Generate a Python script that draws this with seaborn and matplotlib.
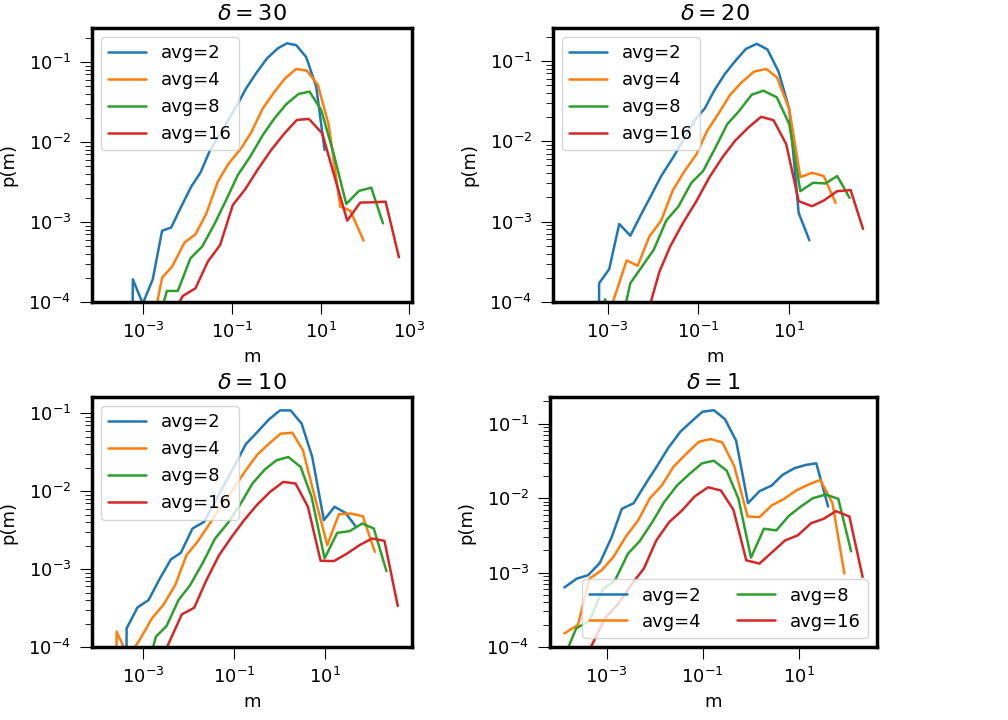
import numpy as np
import pandas as pd
import seaborn as sns
import matplotlib
matplotlib.use("Agg")
import matplotlib.pyplot as plt
from matplotlib import ticker

# values are log10(m) and log10(p(m))
# (-30 stands for an empty bin, it drops the line straight to the axis)

labels = ["avg=2", "avg=4", "avg=8", "avg=16"]
titles = [r"$\delta=30$", r"$\delta=20$", r"$\delta=10$", r"$\delta=1$"]
xtick_vals = [1e-3, 1e-1, 1e1, 1e3]

# delta = 30
d30_m_avg2 = [-3.46, -3.24, -3.015, -2.79, -2.58, -2.375, -2.15, -1.924, -1.71, -1.495, -1.27, -1.059, -0.848,
              -0.683, -0.457, -0.21, 0.032, 0.236, 0.446, 0.672, 0.898, 1.086]
d30_p_avg2 = [-30, -3.717, -4.02, -3.717, -3.11, -3.07, -2.81, -2.56, -2.38, -2.1, -1.9, -1.7, -1.5,
              -1.33, -1.14, -0.954, -0.83, -0.767, -0.79, -0.94, -1.31, -2.1]
d30_m_avg4 = [-2.797, -2.579, -2.353, -2.075, -1.826, -1.585, -1.322, -1.074, -0.795, -0.57, -0.306, -0.058,
              0.198, 0.446, 0.687, 0.935, 1.18, 1.44, 1.665, 1.966]
d30_p_avg4 = [-4.3, -3.696, -3.558, -3.258, -3.154, -2.9, -2.496, -2.267, -2.08, -1.883, -1.579, -1.383,
              -1.204, -1.0875, -1.108, -1.2875, -1.7875, -2.808, -2.858, -3.233]
d30_m_avg8 = [-2.69, -2.473, -2.225, -1.939, -1.676, -1.397, -1.134, -0.87, -0.592, -0.306, -0.043, 0.22,
              0.499, 0.747, 1.01, 1.289, 1.575, 1.861, 2.139, 2.403]
d30_p_avg8 = [-4.31, -3.8625, -3.8625, -3.454, -3.308, -3.025, -2.725, -2.4125, -2.183, -1.9125, -1.704, -1.529,
              -1.4, -1.371, -1.6, -2.142, -2.775, -2.6125, -2.571, -3.017]
d30_m_avg16 = [-2.413, -2.112, -1.826, -1.548, -1.27, -0.983, -0.705, -0.419, -0.118, 0.183, 0.461, 0.732,
               1.033, 1.311, 1.597, 1.891, 2.177, 2.463, 2.764]
d30_p_avg16 = [-4.225, -3.925, -3.829, -3.496, -3.2875, -2.7875, -2.592, -2.342, -2.1, -1.892, -1.725, -1.7125,
               -1.892, -2.433, -2.983, -2.758, -2.754, -2.746, -3.442]

# delta = 20
d20_m_avg2 = [-3.40, -3.1845, -2.963, -2.742, -2.498, -2.262, -2.04, -1.819, -1.546, -1.288, -1.066, -0.86,
              -0.653, -0.417, -0.181, 0.048, 0.284, 0.52, 0.764, 1.0, 1.207, 1.443]
d20_p_avg2 = [-30, -3.767, -3.592, -3.029, -3.175, -2.9125, -2.675, -2.433, -2.192, -1.942, -1.725, -1.592,
              -1.371, -1.1625, -0.996, -0.85, -0.7875, -0.858, -1.133, -1.6, -2.892, -3.233]
d20_m_avg4 = [-3.0, -2.579, -2.336, -2.077, -1.819, -1.561, -1.303, -1.044, -0.808, -0.565, -0.306, -0.048,
              0.225, 0.491, 0.727, 1.0, 1.244, 1.502, 1.76, 2.018]
d20_p_avg4 = [-4.204, -3.483, -3.55, -3.183, -2.9875, -2.608, -2.371, -2.1625, -1.871, -1.6625, -1.425, -1.267,
              -1.133, -1.1, -1.204, -1.6, -2.446, -2.392, -2.433, -2.767]
d20_m_avg8 = [-3.258, -3.052, -2.742, -2.498, -2.24, -1.982, -1.708, -1.435, -1.155, -0.897, -0.624, -0.365,
              -0.1, 0.173, 0.432, 0.727, 1.0, 1.244, 1.524, 1.797, 2.055, 2.328]
d20_p_avg8 = [-4.433, -3.967, -4.392, -3.767, -3.558, -3.35, -2.9875, -2.808, -2.517, -2.371, -2.079, -1.7875,
              -1.621, -1.421, -1.371, -1.454, -1.7875, -2.621, -2.517, -2.525, -2.433, -2.704]
d20_m_avg16 = [-2.129, -1.856, -1.62, -1.339, -1.044, -0.764, -0.476, -0.196, 0.1, 0.38, 0.653, 0.934,
               1.207, 1.502, 1.76, 2.055, 2.351, 2.624]
d20_p_avg16 = [-4.1625, -3.621, -3.308, -3.017, -2.746, -2.454, -2.204, -1.996, -1.829, -1.696, -1.7375, -2.0375,
               -2.746, -2.808, -2.7375, -2.621, -2.608, -3.092]

# delta = 10
d10_m_avg2 = [-3.59, -3.367, -3.125, -2.883, -2.633, -2.391, -2.171, -1.914, -1.657, -1.415, -1.173, -0.96,
              -0.739, -0.483, -0.226, 0.0165, 0.251, 0.494, 0.728, 0.985, 1.22, 1.462, 1.683]
d10_p_avg2 = [-30, -3.76, -3.491, -3.397, -3.12, -2.876, -2.79, -2.479, -2.393, -2.132, -1.872, -1.645,
              -1.397, -1.239, -1.077, -0.962, -0.962, -1.132, -1.56, -2.372, -2.2, -2.278, -2.449]
d10_m_avg4 = [-3.82, -3.587, -3.33, -3.073, -2.809, -2.56, -2.295, -2.046, -1.804, -1.547, -1.29, -1.018,
              -0.739, -0.483, -0.226, 0.031, 0.288, 0.523, 0.765, 1.059, 1.316, 1.572, 1.844, 2.108]
d10_p_avg4 = [-30, -3.803, -4.124, -3.902, -3.632, -3.462, -3.205, -2.82, -2.65, -2.427, -2.205, -1.974,
              -1.731, -1.53, -1.389, -1.261, -1.248, -1.474, -2.03, -2.692, -2.295, -2.286, -2.32, -2.778]
d10_m_avg8 = [-2.978, -2.721, -2.486, -2.222, -1.965, -1.694, -1.415, -1.143, -0.8715, -0.593, -0.321, -0.064,
              0.2, 0.472, 0.714, 1.0, 1.279, 1.55, 1.829, 2.086, 2.365]
d10_p_avg8 = [-4.423, -3.868, -3.731, -3.397, -3.205, -2.927, -2.607, -2.415, -2.179, -1.902, -1.722, -1.603,
              -1.56, -1.688, -2.073, -2.863, -2.534, -2.513, -2.415, -2.479, -3.026]
d10_m_avg16 = [-2.538, -2.149, -1.877, -1.606, -1.327, -1.048, -0.776, -0.497, -0.2035, 0.09, 0.361, 0.633,
               0.912, 1.206, 1.499, 1.771, 2.05, 2.321, 2.615]
d10_p_avg16 = [-4.081, -3.581, -3.496, -3.141, -2.821, -2.585, -2.372, -2.179, -2.009, -1.88, -1.902, -2.2,
               -2.893, -2.897, -2.799, -2.692, -2.607, -2.637, -3.474]

# delta = 1
d1_m_avg2 = [-3.88, -3.62, -3.387, -3.141, -2.894, -2.683, -2.437, -2.19, -1.944, -1.718, -1.465, -1.218,
             -1.007, -0.768, -0.535, -0.303, -0.056, 0.183, 0.437, 0.662, 0.908, 1.141, 1.366, 1.613]
d1_p_avg2 = [-3.2, -3.08, -3.036, -2.87, -2.522, -2.143, -2.067, -1.808, -1.5625, -1.326, -1.107, -0.96,
             -0.839, -0.817, -0.9375, -1.228, -2.067, -1.906, -1.83, -1.6875, -1.598, -1.554, -1.531, -2.112]
d1_m_avg4 = [-3.88, -3.599, -3.352, -3.106, -2.859, -2.592, -2.345, -2.099, -1.852, -1.606, -1.345, -1.077,
             -0.831, -0.592, -0.345, -0.063, 0.183, 0.437, 0.697, 0.944, 1.19, 1.451, 1.704, 1.951]
d1_p_avg4 = [-3.817, -3.705, -3.08, -2.969, -2.79, -2.509, -2.299, -2.0, -1.83, -1.576, -1.406, -1.241,
             -1.205, -1.25, -1.5625, -2.2455, -2.254, -2.098, -2.009, -1.897, -1.821, -1.754, -2.067, -3.013]
d1_m_avg8 = [-3.88, -3.634, -3.352, -3.085, -2.824, -2.556, -2.31, -2.049, -1.803, -1.535, -1.275, -1.014,
             -0.768, -0.5, -0.254, 0.007, 0.275, 0.535, 0.789, 1.028, 1.296, 1.563, 1.824, 2.092]
d1_p_avg8 = [-4.129, -3.75, -3.647, -3.228, -3.103, -2.746, -2.576, -2.321, -2.054, -1.83, -1.674, -1.531,
             -1.496, -1.629, -2.009, -2.799, -2.411, -2.433, -2.241, -2.12, -2.0, -1.951, -2.009, -2.714]
d1_m_avg16 = [-3.563, -3.035, -2.754, -2.493, -2.225, -1.965, -1.697, -1.43, -1.169, -0.887, -0.62, -0.359,
              -0.0915, 0.183, 0.451, 0.718, 0.979, 1.261, 1.521, 1.775, 2.056, 2.331]
d1_p_avg16 = [-4.308, -3.616, -3.415, -3.17, -2.946, -2.567, -2.321, -2.165, -1.978, -1.853, -1.897, -2.156,
              -2.835, -2.879, -2.723, -2.567, -2.5, -2.335, -2.277, -2.174, -2.246, -3.058]

panels = [
    [(d30_m_avg2, d30_p_avg2), (d30_m_avg4, d30_p_avg4), (d30_m_avg8, d30_p_avg8), (d30_m_avg16, d30_p_avg16)],
    [(d20_m_avg2, d20_p_avg2), (d20_m_avg4, d20_p_avg4), (d20_m_avg8, d20_p_avg8), (d20_m_avg16, d20_p_avg16)],
    [(d10_m_avg2, d10_p_avg2), (d10_m_avg4, d10_p_avg4), (d10_m_avg8, d10_p_avg8), (d10_m_avg16, d10_p_avg16)],
    [(d1_m_avg2, d1_p_avg2), (d1_m_avg4, d1_p_avg4), (d1_m_avg8, d1_p_avg8), (d1_m_avg16, d1_p_avg16)],
]

# axis limits as log10 exponents (x left, x right, y top)
xlims = [(-4.16, 3.06), (-4.2, 2.93), (-4.13, 2.93), (-4.18, 2.63)]
ytops = [-0.575, -0.59, -0.79, -0.64]
positions = [[0.0913, 0.5806, 0.3175, 0.3806], [0.5486, 0.5806, 0.3214, 0.3806],
             [0.0913, 0.1014, 0.3175, 0.3472], [0.5456, 0.1014, 0.3244, 0.3472]]

sns.set_style("ticks")
plt.rcParams['font.family'] = ['DejaVu Sans']
plt.rcParams.update({
    'axes.edgecolor': 'black', 'axes.linewidth': 2.5, 'axes.labelcolor': 'black',
    'text.color': 'black', 'xtick.color': 'black', 'ytick.color': 'black',
    'xtick.major.size': 8.5, 'ytick.major.size': 8.5, 'xtick.minor.size': 5, 'ytick.minor.size': 5,
    'xtick.major.width': 0.8, 'ytick.major.width': 0.8, 'xtick.minor.width': 0.6, 'ytick.minor.width': 0.6,
    'xtick.major.pad': 6, 'ytick.major.pad': 6.5,
})
colors = sns.color_palette("tab10")

fig, axes = plt.subplots(2, 2, figsize=(10.08, 7.2), dpi=100)
axes = axes.flatten()

for i, ax in enumerate(axes):
    ax.set_position(positions[i])
    ax.set(xscale='log', yscale='log')
    for j, (lm, lp) in enumerate(panels[i]):
        df = pd.DataFrame({'m': 10.0 ** np.array(lm), 'p': 10.0 ** np.array(lp)})
        sns.lineplot(data=df, x='m', y='p', ax=ax, color=colors[j], label=labels[j],
                     estimator=None, sort=False, linewidth=1.8)
    ax.set_xticks(xtick_vals)
    ax.xaxis.set_minor_locator(ticker.NullLocator())
    ax.set_xlim(10 ** xlims[i][0], 10 ** xlims[i][1])
    ax.set_ylim(1e-4, 10 ** ytops[i])
    ax.tick_params(labelsize=13)
    ax.set_xlabel('m', fontsize=13, labelpad=4)
    ax.set_ylabel('p(m)', fontsize=13, labelpad=8)
    ax.set_title(titles[i], fontsize=16)
    if i == 3:
        ax.legend(loc='lower right', ncol=2, fontsize=13, frameon=True, labelspacing=0.45,
                  handlelength=2.1, columnspacing=2.0)
    else:
        ax.legend(loc='upper left', fontsize=13, frameon=True, labelspacing=0.5,
                  handlelength=2.1)

fig.savefig('out.png', dpi=100)
